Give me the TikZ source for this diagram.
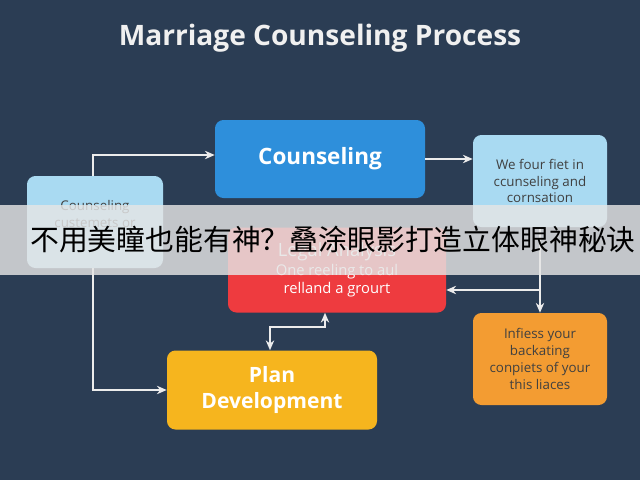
\documentclass[tikz,border=0pt]{standalone}
\usepackage{fontspec}
\setmainfont{Open Sans}
\newfontfamily\cjk{Noto Sans CJK SC}
\usetikzlibrary{calc, positioning, arrows.meta}
\definecolor{bgNavy}{HTML}{2B3D54}
\definecolor{stepBlue}{HTML}{2E8FDB}
\definecolor{noteBlue}{HTML}{A9DAF2}
\definecolor{stepRed}{HTML}{EE3B3F}
\definecolor{stepYellow}{HTML}{F6B51E}
\definecolor{noteOrange}{HTML}{F39C32}
\tikzset{
    stage/.style={rectangle, rounded corners=6pt, align=center, text=white, font=\fontsize{15}{18}\selectfont\bfseries, inner sep=2pt},
    note/.style={rectangle, rounded corners=6pt, fill=noteBlue, align=center, text=black!75, font=\fontsize{9.5}{12}\selectfont, inner sep=2pt},
    arrow/.style={-{Stealth[length=7pt,width=6pt]}, draw=white!85!gray, line width=1pt}
}
\begin{document}
\begin{tikzpicture}[x=0.025cm, y=-0.025cm]
        % Background
        \fill[bgNavy] (0,0) rectangle (640,480);
        \useasboundingbox (0,0) rectangle (640,480);
        \node[text=white!88!gray, font=\fontsize{20}{24}\selectfont\bfseries] (Title) at (320,38) {Marriage Counseling Process};

        % Stages
        \node[stage, fill=stepBlue, minimum width=210*0.025cm, minimum height=78*0.025cm, font=\fontsize{16}{19}\selectfont\bfseries] (Couns) at (320,159) {Counseling};
        \node[stage, fill=stepRed, minimum width=218*0.025cm, minimum height=85*0.025cm, font=\fontsize{10.5}{13}\selectfont] (Legal) at (337,270) {{\fontsize{13}{15}\selectfont Legal Analysis}\\One reeling to aul\\relland a grourt};
        \node[stage, fill=stepYellow, minimum width=210*0.025cm, minimum height=79*0.025cm] (Plan) at (272,390) {Plan\\Development};

        % Notes
        \node[note, minimum width=136*0.025cm, minimum height=92*0.025cm] (Clients) at (95,222) {Counseling\\custemets or\\\phantom{x}};
        \node[note, minimum width=134*0.025cm, minimum height=92*0.025cm] (Fit) at (540,181) {We four fiet in\\ccunseling and\\cornsation};
        \node[note, fill=noteOrange, minimum width=134*0.025cm, minimum height=92*0.025cm] (Inf) at (540,359) {Infiess your\\backating\\conpiets of your\\this liaces};

        % Connections
        \draw[arrow] (Clients.north -| 93,0) |- (Couns.west |- 0,155);
        \draw[arrow] (Couns.east) -- (Fit.west |- Couns.east);
        \draw[arrow] (Fit.south) -- (Inf.north);
        \coordinate (Branch) at (540,290);
        \draw[arrow] (Branch) -- (Legal.east |- Branch);
        \draw[arrow] (Clients.south -| 93,0) |- (Plan.west);
        \draw[{Stealth[length=7pt,width=6pt]}-{Stealth[length=7pt,width=6pt]}, draw=white!85!gray, line width=1pt] (Plan.north -| 270,0) |- (325,327) -- (Legal.south -| 325,0);

        % Banner
        \fill[white!80!gray, opacity=0.82] (0,205) rectangle (640,275);
        \node[font=\cjk\fontsize{20.5}{24}\selectfont, text=black] (Banner) at (333,240) {不用美瞳也能有神？叠涂眼影打造立体眼神秘诀};
    \end{tikzpicture}
\end{document}
